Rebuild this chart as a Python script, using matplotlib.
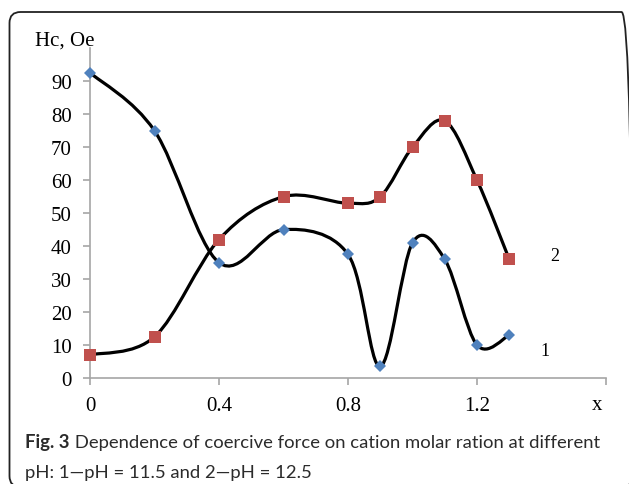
import numpy as np
import matplotlib
matplotlib.use('Agg')
import matplotlib.pyplot as plt
from matplotlib.path import Path
from matplotlib.patches import PathPatch, FancyBboxPatch

# values
x_vals = [0, 0.2, 0.4, 0.6, 0.8, 0.9, 1.0, 1.1, 1.2, 1.3]
hc_ph115 = [92.6, 75, 35, 45, 37.5, 3.5, 41, 36, 10, 13]   # curve 1
hc_ph125 = [7, 12.5, 42, 55, 53, 55, 70, 78, 60, 36]       # curve 2
x_ticks = [0, 0.4, 0.8, 1.2, 1.6]
x_tick_labels = ['0', '0.4', '0.8', '1.2', '']
y_ticks = list(range(0, 100, 10))

BLUE = '#4F81BD'
RED = '#C0504D'
AXIS_GREY = '#A6A6A6'
SERIF = 'Liberation Serif'
CAPTION_FONT = ['Lato', 'DejaVu Sans']
CAPTION_SIZE = 13.3
CAPTION_COLOR = '#2B2B2B'


def smooth_path(xs, ys):
    """Excel-style smoothed line: Catmull-Rom as cubic Bezier segments"""
    pts = np.column_stack([xs, ys]).astype(float)
    n = len(pts)
    verts = [pts[0]]
    codes = [Path.MOVETO]
    for i in range(n - 1):
        p0 = pts[max(i - 1, 0)]
        p1 = pts[i]
        p2 = pts[i + 1]
        p3 = pts[min(i + 2, n - 1)]
        verts += [p1 + (p2 - p0) / 6, p2 - (p3 - p1) / 6, p2]
        codes += [Path.CURVE4] * 3
    return Path(verts, codes)


fig = plt.figure(figsize=(6.29, 4.85), dpi=100)
ax = fig.add_axes([90 / 629, 106 / 485, 516 / 629, 329.7 / 485])

# smoothed curves
for ys in (hc_ph115, hc_ph125):
    ax.add_patch(PathPatch(smooth_path(x_vals, ys), facecolor='none',
                           edgecolor='black', linewidth=2.3, zorder=3))

ax.plot(x_vals, hc_ph115, linestyle='none', marker='D', markersize=6.5,
        color=BLUE, markeredgewidth=0, zorder=4, clip_on=False)
ax.plot(x_vals, hc_ph125, linestyle='none', marker='s', markersize=8.2,
        color=RED, markeredgewidth=0, zorder=4, clip_on=False)

ax.set_xlim(0, 1.6)
ax.set_ylim(0, 100)
ax.set_xticks(x_ticks)
ax.set_xticklabels(x_tick_labels)
ax.set_yticks(y_ticks)

for side in ('top', 'right'):
    ax.spines[side].set_visible(False)
for side in ('left', 'bottom'):
    ax.spines[side].set_color(AXIS_GREY)
    ax.spines[side].set_linewidth(1.2)

ax.tick_params(axis='both', direction='out', length=5, width=1.2,
               color=AXIS_GREY, labelsize=15, pad=8)
for lbl in ax.get_xticklabels() + ax.get_yticklabels():
    lbl.set_fontfamily(SERIF)

# curve labels and axis names
ax.text(1.41, 8.2, '1', fontsize=13, family=SERIF, ha='center', va='center')
ax.text(1.44, 37.3, '2', fontsize=13, family=SERIF, ha='center', va='center')
fig.text(35 / 629, 1 - 41 / 485, 'Hc, Oe', fontsize=15, family=SERIF,
         ha='left', va='center')
fig.text(597 / 629, 1 - 406 / 485, 'x', fontsize=15, family=SERIF,
         ha='center', va='center')

# caption
t1 = fig.text(25 / 629, 1 - 448 / 485, 'Fig. 3', fontsize=CAPTION_SIZE,
              fontweight='bold', family=CAPTION_FONT, color=CAPTION_COLOR,
              va='baseline')
ax.annotate(' Dependence of coercive force on cation molar ration at different',
            xy=(1, 0), xycoords=t1, va='bottom', ha='left',
            fontsize=CAPTION_SIZE, family=CAPTION_FONT, color=CAPTION_COLOR,
            annotation_clip=False)
fig.text(25 / 629, 1 - 478 / 485, 'pH: 1\u2014pH = 11.5 and 2\u2014pH = 12.5',
         fontsize=CAPTION_SIZE, family=CAPTION_FONT, color=CAPTION_COLOR,
         va='baseline')

# rounded frame around figure and caption
frame = FancyBboxPatch((0.095, -0.03), 6.23, 4.75,
                       boxstyle='round,pad=0,rounding_size=0.11',
                       transform=fig.dpi_scale_trans, facecolor='none',
                       edgecolor='#222222', linewidth=1.3)
fig.add_artist(frame)

plt.savefig('out.png', dpi=100)
plt.close()
